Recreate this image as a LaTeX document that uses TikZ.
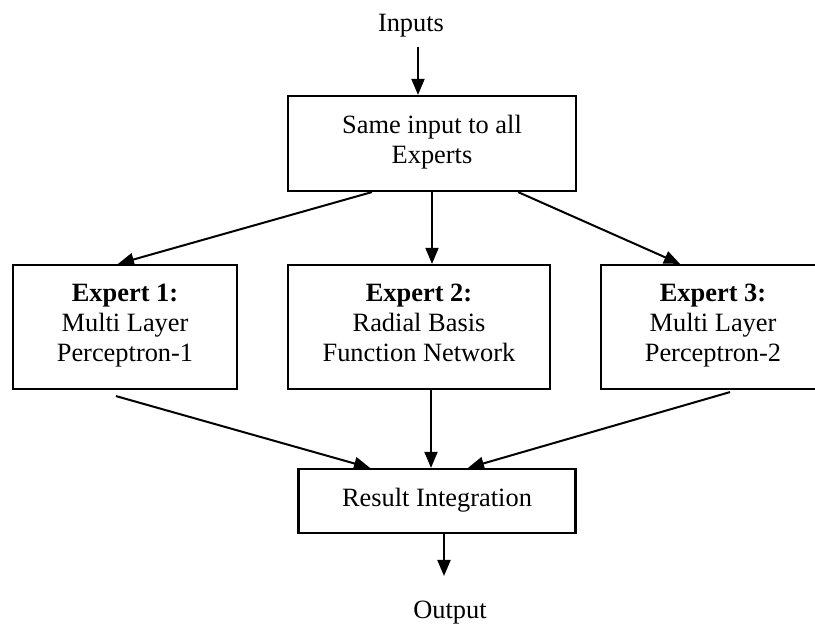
\documentclass[tikz,border=0pt]{standalone}
\usepackage{fontspec}
\setmainfont{Liberation Serif}
\usepackage{tikz}
\usetikzlibrary{calc,arrows.meta,positioning}
\tikzset{
  ar/.style={-{Triangle[length=8pt,width=6.5pt]},line width=1pt},
  box/.style={draw,line width=1.1pt,align=center,inner sep=2pt,font=\fontsize{13.2}{15}\selectfont,execute at end node=\strut},
  lbl/.style={font=\fontsize{13.2}{15}\selectfont,inner sep=0pt,anchor=base}
}

\begin{document}
\begin{tikzpicture}[x=0.5pt,y=0.5pt]
\useasboundingbox (0,0) rectangle (815,624);
\node[lbl] (inputs) at (411,592) {Inputs};
\node[box,minimum width=144pt,minimum height=47.5pt] (same) at (432,480.5) {Same input to all\\Experts};
\node[box,minimum width=112pt,minimum height=62pt] (e1) at (125,297) {\textbf{Expert 1:}\\Multi Layer\\Perceptron-1};
\node[box,minimum width=131pt,minimum height=62pt] (e2) at (419,297) {\textbf{Expert 2:}\\Radial Basis\\Function Network};
\node[box,minimum width=112pt,minimum height=62pt] (e3) at (713,297) {\textbf{Expert 3:}\\Multi Layer\\Perceptron-2};
\node[box,minimum width=138.5pt,minimum height=32pt] (res) at (437,123) {Result Integration};
\node[lbl] (output) at (450,5) {Output};
% free ends
\coordinate (in) at (418,577);
\coordinate (out) at (444,48);
% connectors
\draw[ar] (in) -- (in |- same.north);
\draw[ar] ($(same.south west)+(85,0)$) -- ($(e1.north)+(-7,0)$);
\draw[ar] (same.south) -- (same.south |- e2.north);
\draw[ar] ($(same.south east)+(-59,0)$) -- ($(e3.north)+(-33,0)$);
\draw[ar] ($(e1.south)+(-9,-6)$) -- ($(res.north)+(-67,0)$);
\draw[ar] ($(e2.south)+(12,0)$) -- ($(res.north)+(-6,0)$);
\draw[ar] ($(e3.south)+(17,-2)$) -- ($(res.north)+(31,0)$);
\draw[ar] (res.south -| out) -- (out);
\end{tikzpicture}
\end{document}
